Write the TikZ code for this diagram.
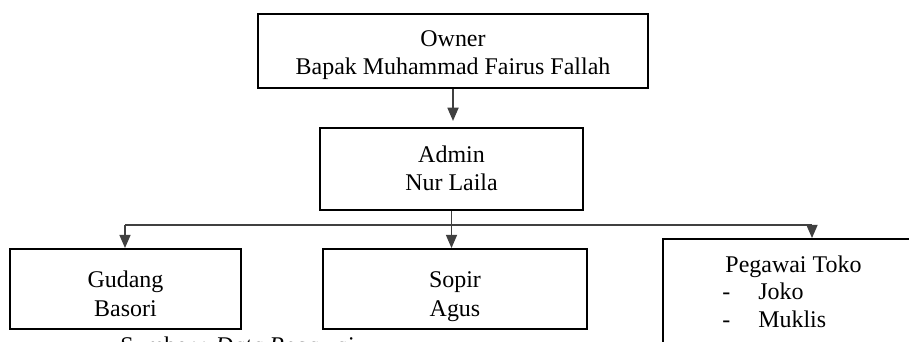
\documentclass[tikz,border=0pt]{standalone}
\usepackage{fontspec}
\setmainfont{Liberation Serif}
\usetikzlibrary{arrows.meta}

% Top strut that sets where the first line sits in a box
\newcommand{\firstline}[1]{\rule{0pt}{#1}}

\tikzset{
  unit box/.style={draw, line width=1pt, align=center, inner sep=2pt,
    font=\fontsize{11.8pt}{14.5pt}\selectfont,
    execute at end node={\rule[-3pt]{0pt}{3pt}}},
  link/.style={draw=black!75, line width=0.6pt},
  arr/.style={link, -{Triangle[length=6.5pt,width=5.5pt]}}
}

\begin{document}
\begin{tikzpicture}[x=0.4926pt, y=-0.4926pt]
      % Page frame
      \useasboundingbox (0,0) rectangle (909,341);

      % Draw the boxes of the chart
      \node[unit box, minimum width=192.1pt, minimum height=36.9pt, font=\fontsize{11.8pt}{14pt}\selectfont] (owner) at (453,51) {\firstline{12.4pt}Owner\\Bapak Muhammad Fairus Fallah};
      \node[unit box, minimum width=129.6pt, minimum height=40.4pt, font=\fontsize{11.8pt}{14pt}\selectfont] (admin) at (451.5,169) {\firstline{10.6pt}Admin\\Nur Laila};
      \node[unit box, minimum width=113.8pt, minimum height=39.4pt] (gudang) at (125.5,289) {\firstline{15.6pt}Gudang\\Basori};
      \node[unit box, minimum width=130pt, minimum height=39.4pt] (sopir) at (455,289) {\firstline{15.6pt}Sopir\\Agus};
      \node[unit box, align=left, anchor=north west, minimum width=127pt, minimum height=54.2pt,
        font=\fontsize{11.8pt}{13.6pt}\selectfont] (pegawai) at (662,238)
        {\firstline{8.6pt}\hspace*{1.5pt}Pegawai Toko\\\makebox[17.7pt][l]{-}Joko\\\makebox[17.7pt][l]{-}Muklis};

      % Draw the connectors
      \coordinate (busl) at (125,225);
      \coordinate (busr) at (812,225);
      \draw[arr, shorten >=3pt] (owner.south) -- (owner.south |- admin.north);
      \draw[arr] (admin.south) -- (admin.south |- sopir.north);
      \draw[link] (busl) -- (busr);
      \draw[arr] (busl) -- (busl |- gudang.north);
      \draw[arr] (busr) -- (busr |- pegawai.north);

      % Source line under the chart
      \node[anchor=north west, inner sep=0pt, font=\fontsize{11.8pt}{14pt}\selectfont] (src) at (120,336) {Sumber : \textit{Data Pegawai}};
  \end{tikzpicture}
\end{document}
